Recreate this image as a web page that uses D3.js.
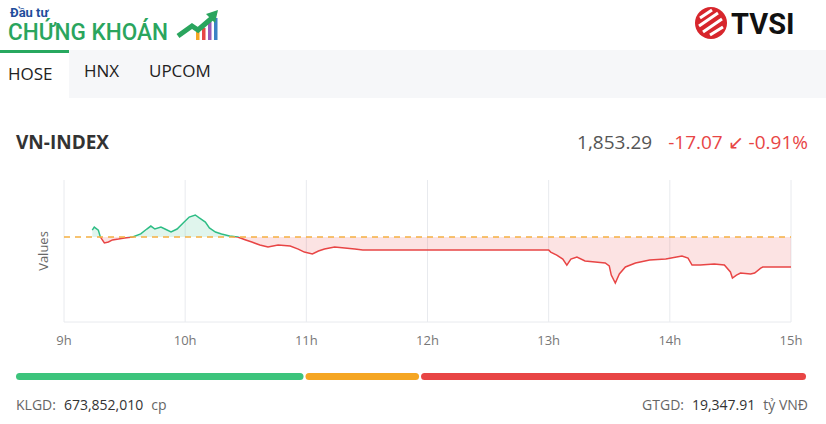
<!DOCTYPE html><html><head><meta charset="utf-8"><script src="https://cdn.jsdelivr.net/npm/d3@7"></script>
<style>body{margin:0;background:#fff;font-family:"Open Sans",Roboto,sans-serif}</style></head><body><svg id="c" width="826" height="424"></svg>
<script>
const times=["9:14","9:15","9:17","9:18","9:20","9:22","9:24","9:27","9:30","9:34","9:38","9:41","9:43","9:45","9:48","9:50","9:53","9:56","9:59","10:02","10:05","10:07","10:10","10:12","10:15","10:18","10:22","10:26","10:30","10:33","10:37","10:41","10:46","10:52","10:56","10:59","11:03","11:06","11:09","11:14","11:19","11:24","11:28","11:30","13:00","13:01","13:04","13:07","13:09","13:11","13:14","13:18","13:23","13:28","13:30","13:31","13:33","13:35","13:38","13:43","13:50","13:58","14:06","14:09","14:11","14:15","14:22","14:27","14:30","14:31","14:33","14:35","14:40","14:42","14:45","14:46","15:00"];
const values=[1874.3,1876.0,1874.3,1870.4,1867.0,1867.5,1868.7,1869.2,1869.8,1870.4,1872.1,1874.9,1876.6,1874.9,1876.0,1874.9,1873.2,1874.9,1878.3,1881.7,1882.9,1881.2,1878.9,1875.5,1873.2,1872.1,1870.9,1870.4,1868.7,1867.5,1865.8,1864.7,1865.8,1865.2,1863.5,1861.8,1860.7,1862.4,1863.5,1864.7,1864.1,1863.5,1863.0,1863.0,1863.0,1861.8,1860.1,1857.8,1854.4,1857.8,1859.0,1856.7,1856.1,1855.6,1853.9,1848.7,1844.2,1849.3,1853.3,1855.6,1857.3,1857.8,1859.6,1858.4,1854.4,1854.4,1855.0,1854.4,1850.5,1847.0,1848.7,1849.9,1849.3,1849.9,1852.7,1853.3,1853.29];
const refValue=1870.36;
const tickLabels=["9h","10h","11h","12h","13h","14h","15h"];
const tabs=["HOSE","HNX","UPCOM"];
const breadth=[{c:"#3cc47c",v:0.535},{c:"#f5a623",v:0.215},{c:"#e84545",v:0.72}];

const svg=d3.select("#c");
const toH=t=>{const [h,m]=t.split(":").map(Number);return h+m/60;};
const data=times.map((t,i)=>({t:toH(t),v:values[i]}));
svg.append("rect").attr("x",0).attr("y",50).attr("width",826).attr("height",48).attr("fill","#f6f7f9");
svg.append("rect").attr("x",0).attr("y",52).attr("width",69).attr("height",46).attr("fill","#fff");
svg.append("rect").attr("x",0).attr("y",50).attr("width",69).attr("height",3).attr("fill","#27a85f");
svg.append("text").attr("x",10).attr("y",17).attr("font-family","Roboto").attr("font-weight","bold").attr("font-size",13).attr("fill","#1f4e9c").text("Đầu tư");
svg.append("text").attr("x",8).attr("y",40).attr("font-family","Roboto").attr("font-weight","500").attr("font-size",23).attr("textLength",160).attr("lengthAdjust","spacingAndGlyphs").attr("fill","#2aa55e").text("CHỨNG KHOÁN");
const ic=svg.append("g").attr("transform","translate(178,12)");
[["#f5a623",18,8],["#e84545",24,12],["#9b59b6",30,18],["#3b82c4",36,22]].forEach(([c,x,h])=>ic.append("rect").attr("x",x).attr("y",28-h).attr("width",3.5).attr("height",h).attr("fill",c));
ic.append("path").attr("d","M0,24 L14,14 L20,18 L34,6").attr("stroke","#2aa55e").attr("stroke-width",5).attr("fill","none");
ic.append("path").attr("d","M28,2 L40,-2 L37,11 Z").attr("fill","#2aa55e");
svg.append("circle").attr("cx",711).attr("cy",23).attr("r",16).attr("fill","#d7262c");
svg.append("path").attr("d","M700,18 L712,10 M699,26 L718,13 M703,32 L722,19 M710,35 L723,27").attr("stroke","#fff").attr("stroke-width",3);
svg.append("text").attr("x",731).attr("y",34).attr("font-family","Roboto").attr("font-weight","bold").attr("font-size",29).attr("fill","#111").text("TVSI");
tabs.forEach((t,i)=>svg.append("text").attr("x",[8,84,149][i]).attr("y",[80,77,77][i]).attr("font-size",17).attr("fill","#222").text(t));
svg.append("text").attr("x",16).attr("y",149).attr("font-size",19).attr("font-weight","bold").attr("fill","#333").text("VN-INDEX");
const last=values[values.length-1],chg=last-refValue;
svg.append("text").attr("x",808).attr("y",149).attr("text-anchor","end").attr("font-size",19).attr("xml:space","preserve")
 .call(t=>{t.append("tspan").attr("fill","#555").text(d3.format(",.2f")(last));
 t.append("tspan").attr("dx",16).attr("fill","#e84545").text(chg.toFixed(2)+" ↙ "+(chg/refValue*100).toFixed(2)+"%");});
const x=d3.scaleLinear().domain([9,15]).range([64,791]);
const y=d3.scaleLinear().domain([1822,1902.8]).range([322,180]);
tickLabels.forEach((l,i)=>{svg.append("line").attr("x1",x(9+i)).attr("x2",x(9+i)).attr("y1",180).attr("y2",322).attr("stroke","#e8eaee");
 svg.append("text").attr("x",x(9+i)).attr("y",345).attr("text-anchor","middle").attr("font-size",13).attr("fill","#777").text(l);});
svg.append("line").attr("x1",64).attr("x2",791).attr("y1",322).attr("y2",322).attr("stroke","#e8eaee");
svg.append("text").attr("transform","translate(48,251) rotate(-90)").attr("text-anchor","middle").attr("font-size",13).attr("fill","#666").text("Values");
const defs=svg.append("defs");
defs.append("clipPath").attr("id","up").append("rect").attr("x",0).attr("y",0).attr("width",826).attr("height",y(refValue));
defs.append("clipPath").attr("id","dn").append("rect").attr("x",0).attr("y",y(refValue)).attr("width",826).attr("height",300);
const area=d3.area().x(d=>x(d.t)).y0(y(refValue)).y1(d=>y(d.v));
const line=d3.line().x(d=>x(d.t)).y(d=>y(d.v));
[["up","#2ebd85","rgba(46,189,133,0.15)"],["dn","#e84545","rgba(232,69,69,0.15)"]].forEach(([id,c,f])=>{
 svg.append("path").datum(data).attr("clip-path",`url(#${id})`).attr("d",area).attr("fill",f);
 svg.append("path").datum(data).attr("clip-path",`url(#${id})`).attr("d",line).attr("fill","none").attr("stroke",c).attr("stroke-width",1.5);});
svg.append("line").attr("x1",64).attr("x2",791).attr("y1",y(refValue)).attr("y2",y(refValue)).attr("stroke","#f5b041").attr("stroke-width",1.5).attr("stroke-dasharray","6,5");
const tot=d3.sum(breadth,d=>d.v);const bx=d3.scaleLinear().domain([0,tot]).range([16,806]);let acc=0;
breadth.forEach(d=>{svg.append("rect").attr("x",bx(acc)+(acc?2:0)).attr("y",373).attr("width",bx(acc+d.v)-bx(acc)-(acc?2:0)).attr("height",7).attr("rx",3.5).attr("fill",d.c);acc+=d.v;});
svg.append("text").attr("x",16).attr("y",410).attr("font-size",14).attr("fill","#666").call(t=>{t.append("tspan").text("KLGD:");t.append("tspan").attr("dx",8).attr("fill","#333").text("673,852,010");t.append("tspan").attr("dx",8).text("cp");});
svg.append("text").attr("x",808).attr("y",410).attr("text-anchor","end").attr("font-size",14).attr("fill","#666").call(t=>{t.append("tspan").text("GTGD:");t.append("tspan").attr("dx",8).attr("fill","#333").text("19,347.91");t.append("tspan").attr("dx",8).text("tỷ VNĐ");});
</script></body></html>
